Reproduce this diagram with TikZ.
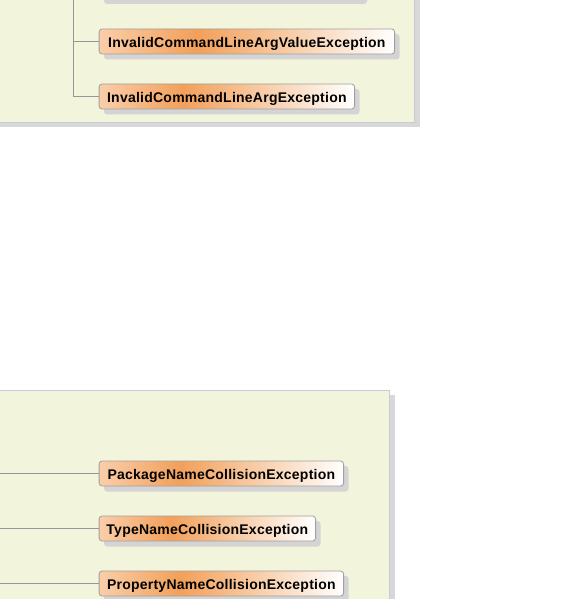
\documentclass[tikz,border=0pt]{standalone}
\usepackage{fontspec}
\setmainfont{Liberation Sans}
\newfontfamily\nodefont[LetterSpace=1.7]{Liberation Sans}
\definecolor{panelbg}{RGB}{243,244,220}
\definecolor{panelborder}{RGB}{200,204,214}
\definecolor{panelshadow}{RGB}{216,216,216}
\definecolor{nodeshadowc}{RGB}{212,212,212}
\definecolor{nodeborder}{RGB}{160,160,160}
\definecolor{linkc}{RGB}{150,150,150}
\definecolor{gl}{RGB}{250,206,170}
\definecolor{gm}{RGB}{242,160,90}
\pgfdeclarehorizontalshading{nodeshade}{100bp}{color(0bp)=(gl); color(25bp)=(gl); color(41.5bp)=(gm); color(75bp)=(white); color(100bp)=(white)}
\tikzset{
  exc/.style={draw=nodeborder, line width=0.8bp, rounded corners=3bp, shading=nodeshade,
    minimum height=25bp, inner xsep=0pt, inner ysep=0pt, text height=13bp, text depth=0.4bp,
    anchor=west, text=black,
    font=\nodefont\bfseries\fontsize{14bp}{16bp}\selectfont},
  nshadow/.style={fill=nodeshadowc, rounded corners=3bp},
  link/.style={draw=linkc, line width=0.8bp},
  panel/.style={fill=panelbg, draw=panelborder, line width=0.8bp},
  pshadow/.style={fill=panelshadow}
}
\begin{document}
\begin{tikzpicture}[x=1bp,y=-1bp]
\useasboundingbox (0,0) rectangle (585,599);
\begin{scope}
\clip (0,0) rectangle (585,599);
% top panel
\fill[pshadow] (-2,-5) rectangle (419.5,127.5);
\draw[panel] (-2,-5) rectangle (414,122.5);
% bottom panel
\fill[pshadow] (-2,395) rectangle (395,605);
\draw[panel] (-2,390.5) rectangle (389.5,605);
% shadow of node above frame
\fill[nshadow] (104,-30) rectangle (367,4);
% shadows of nodes
\fill[nshadow] (104,34) rectangle (399.5,59.5);
\fill[nshadow] (104,89) rectangle (359.5,114.5);
\fill[nshadow] (104,466) rectangle (348.5,491.5);
\fill[nshadow] (104,521) rectangle (320.5,546.5);
\fill[nshadow] (104,576) rectangle (348.5,601.5);
% nodes
\node[exc, minimum width=295.5bp] (v) at (98.7,41.5) {InvalidCommandLineArgValueException};
\node[exc, minimum width=255.5bp] (a) at (98.7,96.5) {InvalidCommandLineArgException};
\node[exc, minimum width=244.5bp] (p) at (98.7,473.5) {PackageNameCollisionException};
\node[exc, minimum width=216.5bp] (t) at (98.7,528.5) {TypeNameCollisionException};
\node[exc, minimum width=244.5bp] (r) at (98.7,583.5) {PropertyNameCollisionException};
% connectors
\coordinate (trunk) at (73.5,-2);
\coordinate (lp) at (-2,473.5);
\coordinate (lt) at (-2,528.5);
\coordinate (lr) at (-2,583.5);
\draw[link] (trunk) |- (v.west);
\draw[link] (trunk) |- (a.west);
\draw[link] (lp) -- (p.west);
\draw[link] (lt) -- (t.west);
\draw[link] (lr) -- (r.west);
\end{scope}
\end{tikzpicture}
\end{document}
